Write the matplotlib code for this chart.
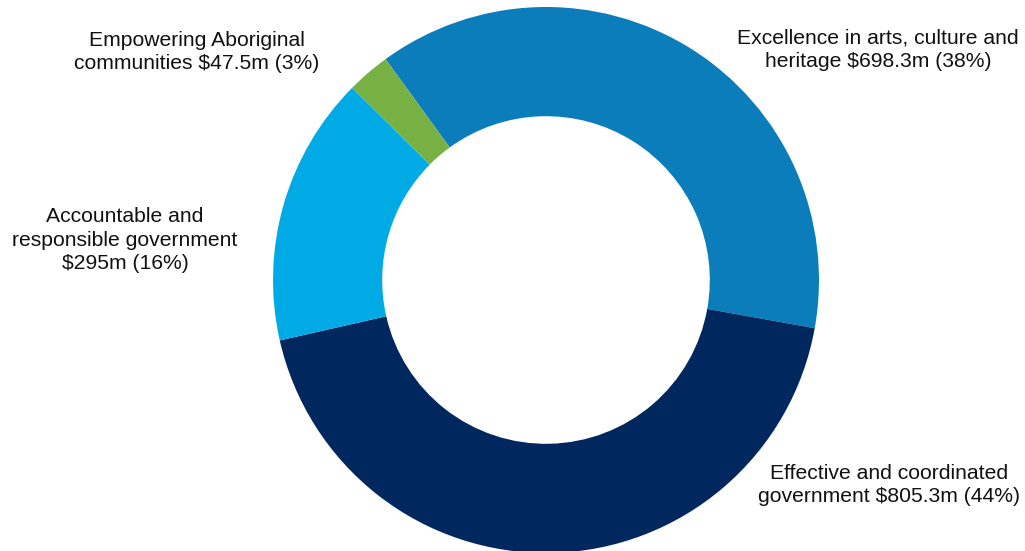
import matplotlib
matplotlib.use("Agg")
import matplotlib.pyplot as plt

# budget by outcome, $m
labels = [
    "Excellence in arts, culture and\nheritage $698.3m (38%)",
    "Effective and coordinated\ngovernment $805.3m (44%)",
    "Accountable and\nresponsible government\n$295m (16%)",
    "Empowering Aboriginal\ncommunities $47.5m (3%)",
]
values = [698.3, 805.3, 295.0, 47.5]
colors = ["#0B7DBA", "#00285F", "#00AAE4", "#78B143"]

# label anchor points, pixel coords from the top-left
label_pos = [(878, 50), (889, 485), (125, 240), (197, 52)]

W, H = 1025, 551
plt.rcParams["font.family"] = ["Liberation Sans", "DejaVu Sans"]

fig = plt.figure(figsize=(W / 100, H / 100), dpi=100)
ax = fig.add_axes([0, 0, 1, 1])

cx, cy, R = 546, 280, 273
ax.pie(values, colors=colors, startangle=126, counterclock=False,
       radius=R, center=(cx, H - cy),
       wedgeprops=dict(width=R * 0.4, linewidth=0))

for txt, (x, y) in zip(labels, label_pos):
    ax.text(x, H - y, txt, ha="center", va="center", multialignment="center",
            fontsize=15.2, color="#111111", linespacing=1.3)

ax.set_xlim(0, W)
ax.set_ylim(0, H)
ax.set_aspect("equal")
ax.axis("off")

fig.savefig("out.png", dpi=100)
